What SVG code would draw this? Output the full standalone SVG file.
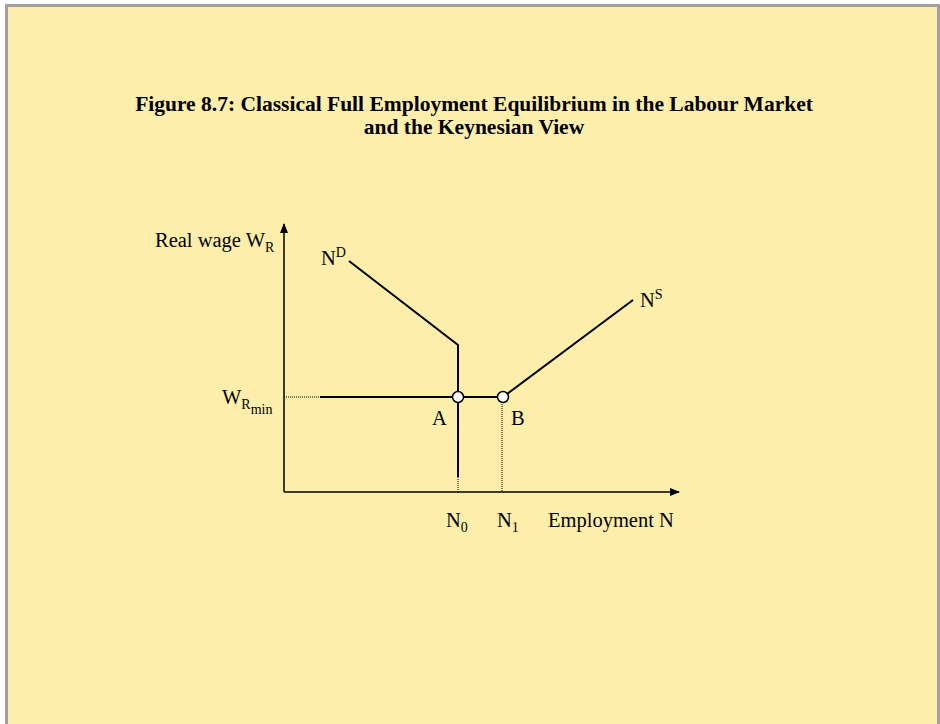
<svg xmlns="http://www.w3.org/2000/svg" width="940" height="724" viewBox="0 0 940 724">
<style>
text{font-family:"Liberation Serif","Times New Roman",serif;fill:#000}
.t{font-weight:bold;font-size:21.5px}
.l{font-size:20.5px}
.s{font-size:14px}
.ln{stroke:#000;stroke-width:2;fill:none}
.ax{stroke:#000;stroke-width:1.5;fill:none}
.dot{stroke:#000;stroke-width:1;stroke-dasharray:1 1;fill:none}
.c{fill:#fff;stroke:#000;stroke-width:1.5}
</style>
<defs>
<marker id="ar" markerWidth="10" markerHeight="8" refX="9" refY="4" orient="auto" markerUnits="userSpaceOnUse">
<path d="M0,0 L10,4 L0,8 Z" fill="#000"/>
</marker>
</defs>
<rect x="0" y="0" width="940" height="724" fill="#ffffff"/>
<rect x="6.5" y="5.5" width="932" height="720" fill="#FDEFAB" stroke="#a0a0a0" stroke-width="3"/>
<g id="title">
<text class="t" x="474" y="111" text-anchor="middle">Figure 8.7: Classical Full Employment Equilibrium in the Labour Market</text>
<text class="t" x="474" y="134" text-anchor="middle">and the Keynesian View</text>
</g>
<g id="connectors">
<line class="ax" x1="284" y1="492" x2="284" y2="224" marker-end="url(#ar)"/>
<line class="ax" x1="284" y1="492" x2="679" y2="492" marker-end="url(#ar)"/>
<line class="dot" x1="284" y1="397" x2="320" y2="397"/>
<line class="dot" x1="458" y1="477" x2="458" y2="492"/>
<line class="dot" x1="502" y1="402" x2="502" y2="492"/>
<polyline class="ln" points="349,261 458,345 458,477"/>
<line class="ln" x1="320" y1="397" x2="503" y2="397"/>
<line class="ln" x1="503" y1="397" x2="633" y2="300"/>
</g>
<g id="nodeA"><circle class="c" cx="458" cy="397" r="5.5"/><text class="l" x="432" y="425">A</text></g>
<g id="nodeB"><circle class="c" cx="503" cy="397" r="5.5"/><text class="l" x="511" y="425">B</text></g>
<g id="yLabel"><text class="l" x="155" y="247">Real wage W<tspan class="s" dy="5">R</tspan></text></g>
<g id="ND"><text class="l" x="321" y="265">N<tspan class="s" dy="-8">D</tspan></text></g>
<g id="NS"><text class="l" x="640" y="307">N<tspan class="s" dy="-8">S</tspan></text></g>
<g id="Wmin"><text class="l" x="222" y="404">W<tspan class="s" dy="5">R</tspan><tspan class="s" dy="5">min</tspan></text></g>
<g id="N0"><text class="l" x="446" y="527">N<tspan class="s" dy="5">0</tspan></text></g>
<g id="N1"><text class="l" x="497" y="527">N<tspan class="s" dy="5">1</tspan></text></g>
<g id="xLabel"><text class="l" x="548" y="527">Employment N</text></g>
</svg>
